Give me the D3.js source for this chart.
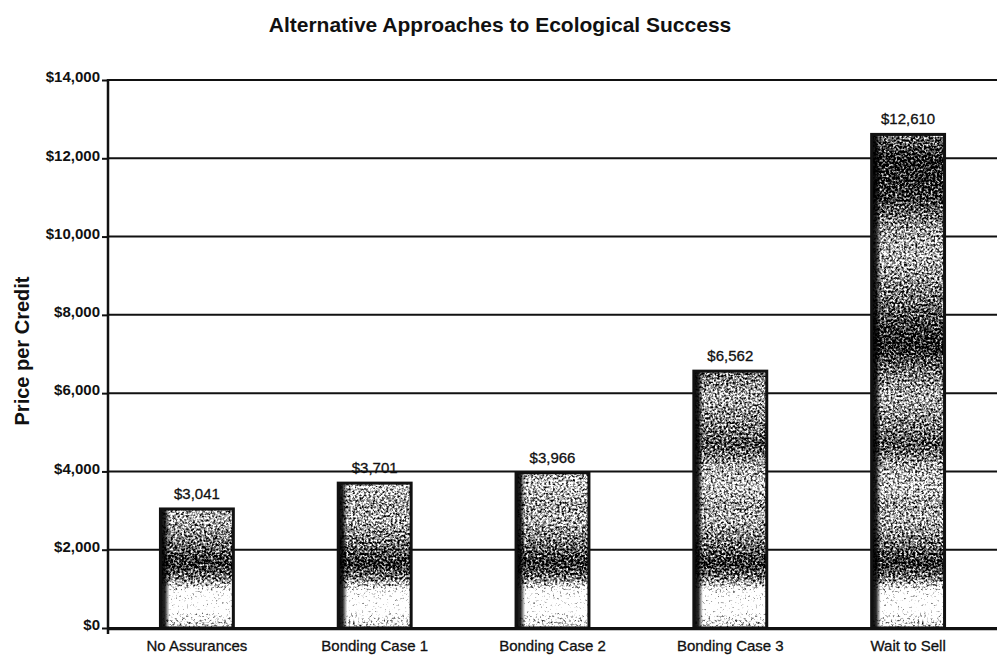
<!DOCTYPE html>
<html>
<head>
<meta charset="utf-8">
<script src="https://cdn.jsdelivr.net/npm/d3@7/dist/d3.min.js"></script>
<style>
  html, body { margin: 0; padding: 0; background: #fff; }
  svg { display: block; font-family: "Liberation Sans", Arial, Helvetica, sans-serif; }
</style>
</head>
<body>
<svg id="chart" width="997" height="658"></svg>
<script>
// Price per credit under each assurance approach
const categories = ["No Assurances", "Bonding Case 1", "Bonding Case 2", "Bonding Case 3", "Wait to Sell"];
const prices = [3041, 3701, 3966, 6562, 12610];
const yTicks = [0, 2000, 4000, 6000, 8000, 10000, 12000, 14000];
const chartTitle = "Alternative Approaches to Ecological Success";
const yTitle = "Price per Credit";

const plotLeft = 108, plotRight = 997, plotTop = 80, plotBottom = 628;

const svg = d3.select("#chart");
const defs = svg.append("defs");

const x = d3.scaleBand().domain(categories).range([plotLeft, plotRight])
  .paddingInner(0.59).paddingOuter(0.295);
const y = d3.scaleLinear().domain([0, 14000]).range([plotBottom, plotTop]);

const money = v => "$" + d3.format(",")(v);

// Ink density of the printed fill, as lightness at a given price level
const inkBands = [
  [14000, 0.54], [12500, 0.46], [12000, 0.34], [11000, 0.38], [10200, 0.54],
  [9500, 0.58], [8400, 0.48], [7600, 0.38], [7200, 0.34], [6600, 0.48],
  [5900, 0.57], [5000, 0.48], [4700, 0.42], [4100, 0.57], [3600, 0.61],
  [3100, 0.54], [2800, 0.58], [2150, 0.48], [1650, 0.36], [1250, 0.50],
  [900, 0.80], [450, 0.85], [200, 0.70], [0, 0.68]
];
const shade = defs.append("linearGradient")
  .attr("id", "shade").attr("gradientUnits", "userSpaceOnUse")
  .attr("x1", 0).attr("x2", 0).attr("y1", plotTop).attr("y2", plotBottom);
inkBands.forEach(([v, l]) => {
  const g = Math.round(l * 255);
  shade.append("stop")
    .attr("offset", (y(v) - plotTop) / (plotBottom - plotTop))
    .attr("stop-color", `rgb(${g},${g},${g})`);
});

// Heavy ink along the left edge of each bar
const edge = defs.append("linearGradient").attr("id", "edge")
  .attr("x1", 0).attr("x2", 1).attr("y1", 0).attr("y2", 0);
edge.append("stop").attr("offset", 0).attr("stop-color", "#000").attr("stop-opacity", 0.95);
edge.append("stop").attr("offset", 0.5).attr("stop-color", "#000").attr("stop-opacity", 0.85);
edge.append("stop").attr("offset", 1).attr("stop-color", "#000").attr("stop-opacity", 0);

// Stippled halftone: noise thresholded against the shading lightness
const grain = defs.append("filter").attr("id", "grain")
  .attr("x", 0).attr("y", 0).attr("width", 1).attr("height", 1)
  .attr("color-interpolation-filters", "sRGB");
grain.append("feTurbulence").attr("type", "fractalNoise")
  .attr("baseFrequency", 0.45).attr("numOctaves", 2).attr("seed", 5).attr("result", "t");
grain.append("feColorMatrix").attr("in", "t").attr("type", "matrix")
  .attr("values", "-1 0 0 0 1  -1 0 0 0 1  -1 0 0 0 1  0 0 0 0 1").attr("result", "inv");
grain.append("feComposite").attr("in", "SourceGraphic").attr("in2", "inv")
  .attr("operator", "arithmetic").attr("k1", 0).attr("k2", 1).attr("k3", 1).attr("k4", -0.5)
  .attr("result", "diff");
const ct = grain.append("feComponentTransfer").attr("in", "diff").attr("result", "dots");
["feFuncR", "feFuncG", "feFuncB"].forEach(f =>
  ct.append(f).attr("type", "linear").attr("slope", 2.6).attr("intercept", -0.8));
ct.append("feFuncA").attr("type", "linear").attr("slope", 0).attr("intercept", 1);
grain.append("feComposite").attr("in", "dots").attr("in2", "SourceGraphic").attr("operator", "in");

// Horizontal grid lines
svg.append("g").selectAll("line").data(yTicks).join("line")
  .attr("x1", plotLeft).attr("x2", plotRight)
  .attr("y1", d => y(d)).attr("y2", d => y(d))
  .attr("stroke", "#111").attr("stroke-width", 2);

// Y axis with ticks and dollar labels
const yAxis = svg.append("g").attr("transform", `translate(${plotLeft},0)`)
  .call(d3.axisLeft(y).tickValues(yTicks).tickFormat(money).tickSize(6).tickPadding(2));
yAxis.select(".domain").remove();
yAxis.selectAll(".tick line").attr("stroke", "#111").attr("stroke-width", 2);
yAxis.selectAll(".tick text")
  .attr("font-size", 15).attr("font-weight", "bold").attr("fill", "#111")
  .attr("font-family", "'Liberation Sans', Arial, sans-serif")
  .attr("y", -3);
svg.append("line").attr("x1", plotLeft).attr("x2", plotLeft)
  .attr("y1", plotTop - 1).attr("y2", plotBottom + 6)
  .attr("stroke", "#111").attr("stroke-width", 2.5);

// Bars
const bars = svg.append("g").selectAll("g").data(categories).join("g");
bars.append("rect")
  .attr("x", d => x(d)).attr("width", x.bandwidth())
  .attr("y", (d, i) => y(prices[i])).attr("height", (d, i) => y(0) - y(prices[i]))
  .attr("fill", "url(#shade)").attr("filter", "url(#grain)");
bars.append("rect")
  .attr("x", d => x(d)).attr("width", 9)
  .attr("y", (d, i) => y(prices[i])).attr("height", (d, i) => y(0) - y(prices[i]))
  .attr("fill", "url(#edge)");
bars.append("rect")
  .attr("x", d => x(d)).attr("width", x.bandwidth())
  .attr("y", (d, i) => y(prices[i])).attr("height", (d, i) => y(0) - y(prices[i]))
  .attr("fill", "none").attr("stroke", "#111").attr("stroke-width", 3);

// Value labels above bars
bars.append("text")
  .attr("x", d => x(d) + x.bandwidth() / 2)
  .attr("y", (d, i) => y(prices[i]) - 10)
  .attr("text-anchor", "middle").attr("font-size", 15).attr("fill", "#111")
  .attr("stroke", "#111").attr("stroke-width", 0.3)
  .text((d, i) => money(prices[i]));

// Baseline and category axis
svg.append("line").attr("x1", plotLeft).attr("x2", plotRight)
  .attr("y1", plotBottom + 1).attr("y2", plotBottom + 1)
  .attr("stroke", "#111").attr("stroke-width", 2.5);
const xAxis = svg.append("g").attr("transform", `translate(0,${plotBottom})`)
  .call(d3.axisBottom(x).tickSize(0).tickPadding(12));
xAxis.select(".domain").remove();
xAxis.selectAll(".tick text")
  .attr("font-size", 15).attr("fill", "#111")
  .attr("stroke", "#111").attr("stroke-width", 0.3)
  .attr("font-family", "'Liberation Sans', Arial, sans-serif");

// Titles
svg.append("text").attr("x", 500).attr("y", 32)
  .attr("text-anchor", "middle").attr("font-size", 21).attr("font-weight", "bold")
  .attr("fill", "#111").text(chartTitle);
svg.append("text")
  .attr("transform", `translate(29,351) rotate(-90)`)
  .attr("text-anchor", "middle").attr("font-size", 20).attr("font-weight", "bold")
  .attr("fill", "#111").text(yTitle);
</script>
</body>
</html>
